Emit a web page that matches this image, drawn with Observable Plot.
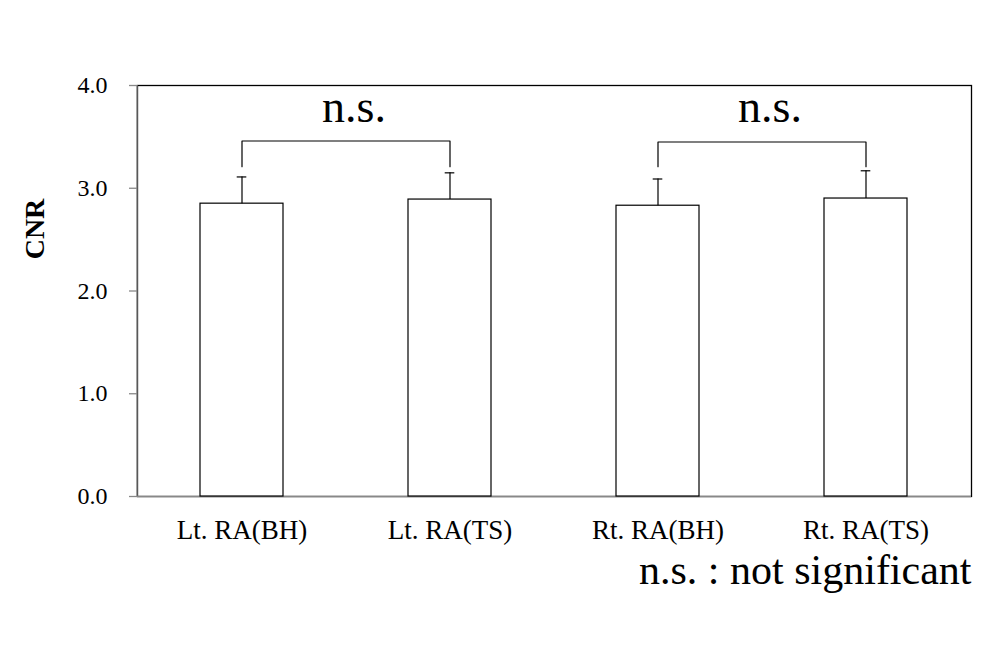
<!DOCTYPE html>
<html>
<head>
<meta charset="utf-8">
<script src="https://cdn.jsdelivr.net/npm/d3@7"></script>
<script src="https://cdn.jsdelivr.net/npm/@observablehq/plot@0.6"></script>
<style>
  body { margin: 0; background: #fff; }
  #chart { width: 998px; height: 649px; }
  #chart svg text { font-family: 'Liberation Serif', 'Times New Roman', serif; }
</style>
</head>
<body>
<div id="chart"></div>
<script>
// ---- data ----
const categories = ["Lt. RA(BH)", "Lt. RA(TS)", "Rt. RA(BH)", "Rt. RA(TS)"];
const means = [2.85, 2.89, 2.83, 2.90];
const upperErrors = [3.11, 3.15, 3.09, 3.17];
const yTicks = [0, 1, 2, 3, 4];

const bracketFrom = ["Lt. RA(BH)", "Rt. RA(BH)"];
const bracketTo = ["Lt. RA(TS)", "Rt. RA(TS)"];
const bracketTop = [3.46, 3.45];
const bracketBottom = [3.21, 3.21];
const bracketLabel = ["n.s.", "n.s."];
const bracketLabelY = [3.64, 3.64];
const captionText = "n.s. : not significant";
const yLabel = "CNR";

// ---- tables built from arrays ----
const bars = categories.map((c, i) => ({cat: c, value: means[i], upper: upperErrors[i]}));
const bracketPts = [];
bracketFrom.forEach((f, i) => {
  bracketPts.push({g: i, x: f, y: bracketBottom[i]});
  bracketPts.push({g: i, x: f, y: bracketTop[i]});
  bracketPts.push({g: i, x: bracketTo[i], y: bracketTop[i]});
  bracketPts.push({g: i, x: bracketTo[i], y: bracketBottom[i]});
});
const labels = bracketFrom.map((f, i) => ({from: f, to: bracketTo[i], text: bracketLabel[i], y: bracketLabelY[i]}));

const font = "'Liberation Serif', 'Times New Roman', serif";
const grey = "#888";

const plot = Plot.plot({
  width: 998,
  height: 649,
  marginLeft: 137,
  marginRight: 27,
  marginTop: 85,
  marginBottom: 153,
  style: {fontFamily: font, background: "#fff", color: "#000"},
  x: {domain: categories, paddingInner: 0.6, paddingOuter: 0.3, label: null},
  y: {domain: [0, 4], label: null},
  marks: [
    Plot.frame({stroke: "#000", strokeWidth: 1.3}),
    Plot.ruleY([0], {stroke: grey, strokeWidth: 1.3}),
    Plot.axisY({ticks: yTicks, tickFormat: d => d.toFixed(1), tickSize: 8, tickPadding: 22,
      fontSize: 24, stroke: grey, strokeWidth: 1.3, strokeOpacity: 1, label: null}),
    Plot.axisX({tickSize: 0, tickPadding: 23, fontSize: 27, label: null}),
    Plot.barY(bars, {x: "cat", y: "value", fill: "#fff", stroke: "#000", strokeWidth: 1.2}),
    Plot.ruleX(bars, {x: "cat", y1: "value", y2: "upper", stroke: "#000", strokeWidth: 1.2}),
    Plot.tickY(bars, {x: "cat", y: "upper", stroke: "#000", strokeWidth: 1.2, insetLeft: 36.7, insetRight: 36.7}),
    Plot.line(bracketPts, {x: "x", y: "y", z: "g", stroke: "#000", strokeWidth: 1.2, curve: "linear"}),
    Plot.text(labels, {x: "from", y: "y", text: "text", fontSize: 46, lineAnchor: "bottom", textAnchor: "middle",
      fontFamily: font,
      render: (index, scales, values, dims, ctx, next) => {
        const g = next(index, scales, values, dims, ctx);
        const xs = scales.x;
        d3.select(g).selectAll("text").each(function(_, j) {
          const i = index[j];
          const mid = (xs(labels[i].from) + xs(labels[i].to)) / 2;
          this.removeAttribute("transform");
          this.setAttribute("x", mid + 8);
          this.setAttribute("y", scales.y(labels[i].y));
        });
        return g;
      }}),
    Plot.text([captionText], {frameAnchor: "bottom-right", dy: 87, fontSize: 42, textAnchor: "end", lineAnchor: "bottom", fontFamily: font}),
    Plot.text([yLabel], {frameAnchor: "left", dx: -102, dy: -62, rotate: -90, fontSize: 28, fontWeight: "bold", textAnchor: "middle", fontFamily: font})
  ]
});

// grey left axis line drawn using the plot's own scales
const xr = plot.scale("x").range;
const ys = plot.scale("y");
d3.select(plot).append("line")
  .attr("x1", xr[0]).attr("x2", xr[0])
  .attr("y1", ys.apply(0)).attr("y2", ys.apply(4))
  .attr("stroke", grey).attr("stroke-width", 1.3);

document.getElementById("chart").append(plot);
</script>
</body>
</html>
